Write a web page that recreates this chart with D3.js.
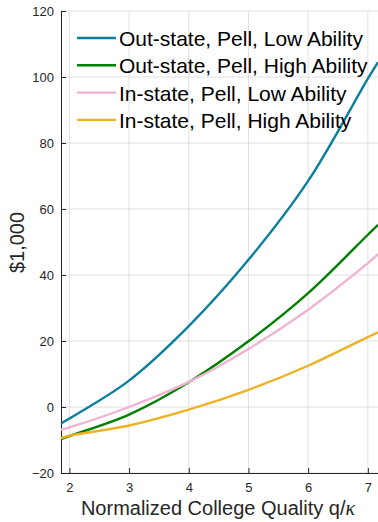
<!DOCTYPE html>
<html>
<head>
<meta charset="utf-8">
<script src="https://cdn.jsdelivr.net/npm/d3@7"></script>
<style>
  body { margin: 0; background: #fff; }
  svg { display: block; font-family: "Liberation Sans", Arial, sans-serif; }
  .grid line { stroke: #dfdfdf; stroke-width: 1; }
  .axis path, .axis line { stroke: #262626; }
  .axis text { fill: #262626; font-size: 13px; font-family: "Liberation Sans", Arial, sans-serif; }
</style>
</head>
<body>
<div id="chart"></div>
<script>
var svgWidth = 378;
var svgHeight = 522;

var margin = { top: 11, right: 0, bottom: 49, left: 61 };
var width = svgWidth - margin.left - margin.right;
var height = svgHeight - margin.top - margin.bottom;

// values ($1,000) at each quality level
var quality = [1.86, 2, 3, 4, 5, 6, 7, 7.17];
var outLow = [-5.0, -3.5, 8.0, 24.5, 44.6, 68.5, 99.5, 104.5];
var outHigh = [-9.7, -8.8, -2.3, 7.5, 19.9, 34.5, 52.2, 55.2];
var inLow = [-6.9, -6.2, 0.0, 7.6, 17.6, 29.5, 43.6, 46.3];
var inHigh = [-9.4, -8.7, -5.6, -0.8, 5.2, 12.5, 21.2, 22.6];

var seriesNames = ["Out-state, Pell, Low Ability", "Out-state, Pell, High Ability",
  "In-state, Pell, Low Ability", "In-state, Pell, High Ability"];
var seriesValues = [outLow, outHigh, inLow, inHigh];
var colors = ["#0b7f9b", "#008000", "#efb3d3", "#eeb125"];

var xTicks = [2, 3, 4, 5, 6, 7];
var yTicks = [-20, 0, 20, 40, 60, 80, 100, 120];

var svg = d3.select("#chart")
  .append("svg")
  .attr("width", svgWidth)
  .attr("height", svgHeight);

var chart = svg.append("g")
  .attr("transform", "translate(" + margin.left + "," + margin.top + ")");

var xScale = d3.scaleLinear().domain([1.86, 7.17]).range([0, width]);
var yScale = d3.scaleLinear().domain([-20, 120]).range([height, 0]);

// grid
chart.append("g").attr("class", "grid")
  .selectAll("line").data(xTicks).enter().append("line")
  .attr("x1", function(d) { return xScale(d); })
  .attr("x2", function(d) { return xScale(d); })
  .attr("y1", 0).attr("y2", height);

chart.append("g").attr("class", "grid")
  .selectAll("line").data(yTicks).enter().append("line")
  .attr("x1", 0).attr("x2", width)
  .attr("y1", function(d) { return yScale(d); })
  .attr("y2", function(d) { return yScale(d); });

// axes, ticks pointing inward (matlab style)
var bottomAxis = d3.axisBottom(xScale).tickValues(xTicks).tickFormat(d3.format("d"))
  .tickSizeInner(-5).tickSizeOuter(0).tickPadding(10);
var leftAxis = d3.axisLeft(yScale).tickValues(yTicks).tickFormat(d3.format("d"))
  .tickSizeInner(-5).tickSizeOuter(0).tickPadding(7);

chart.append("g")
  .attr("class", "axis")
  .attr("transform", "translate(0," + height + ")")
  .call(bottomAxis);

chart.append("g")
  .attr("class", "axis")
  .call(leftAxis);

// lines
var line = d3.line()
  .x(function(d) { return xScale(d[0]); })
  .y(function(d) { return yScale(d[1]); })
  .curve(d3.curveCatmullRom.alpha(0.5));

seriesValues.forEach(function(vals, i) {
  var pts = quality.map(function(q, j) { return [q, vals[j]]; });
  chart.append("path")
    .datum(pts)
    .attr("fill", "none")
    .attr("stroke", colors[i])
    .attr("stroke-width", 2.4)
    .attr("d", line);
});

// legend (no box)
var legend = svg.append("g").attr("transform", "translate(77,38)");
seriesNames.forEach(function(name, i) {
  var row = legend.append("g").attr("transform", "translate(0," + (i * 27.3) + ")");
  row.append("line")
    .attr("x1", 0).attr("x2", 39)
    .attr("stroke", colors[i])
    .attr("stroke-width", 2.4);
  row.append("text")
    .attr("x", 42)
    .attr("y", 8)
    .style("font-size", "21px")
    .attr("fill", "#000")
    .text(name);
});

// axis labels
svg.append("text")
  .attr("transform", "rotate(-90)")
  .attr("x", -242.5)
  .attr("y", 24)
  .attr("text-anchor", "middle")
  .style("font-size", "20px")
  .attr("fill", "#262626")
  .text("$1,000");

var xLabel = svg.append("text")
  .attr("x", 218)
  .attr("y", 515)
  .attr("text-anchor", "middle")
  .style("font-size", "20px")
  .attr("fill", "#262626");
xLabel.append("tspan").text("Normalized College Quality q/");
xLabel.append("tspan")
  .style("font-family", "'Liberation Serif', 'DejaVu Serif', serif")
  .style("font-style", "italic")
  .text("κ");
</script>
</body>
</html>
